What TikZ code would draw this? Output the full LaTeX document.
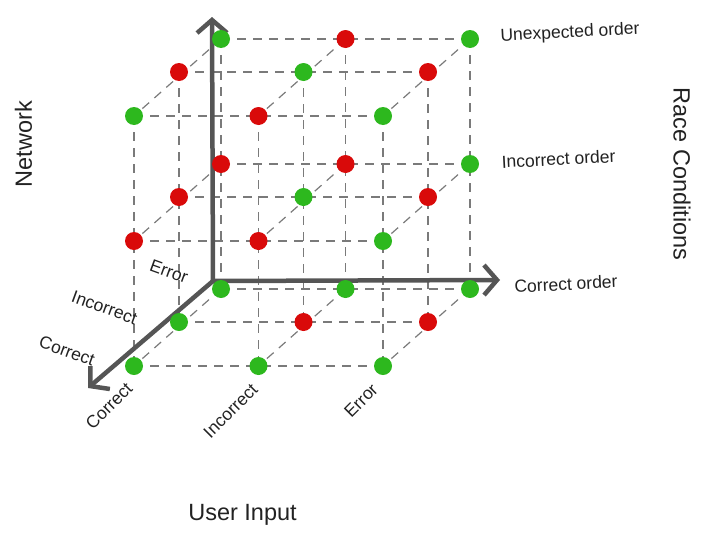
\documentclass[tikz,border=0pt]{standalone}
\usepackage{fontspec}
\setmainfont{Liberation Sans}
\usetikzlibrary{arrows.meta}
\definecolor{okgreen}{HTML}{2DB81E}
\definecolor{badred}{HTML}{D90A0A}
\definecolor{axisgray}{HTML}{555555}
\definecolor{gridgray}{HTML}{7A7A7A}
\definecolor{textgray}{HTML}{222222}
\tikzset{
  grid/.style={gridgray,line width=1.2pt,dash pattern=on 9pt off 7pt},
  axis/.style={axisgray,line width=4.5pt,-{Straight Barb[length=13pt,width=30pt]}},
  small/.style={textgray,font=\fontsize{17.5}{20}\selectfont},
  big/.style={textgray,font=\fontsize{23.5}{26}\selectfont},
}
\begin{document}
\begin{tikzpicture}[x=1pt,y=-1pt]
\useasboundingbox (0,0) rectangle (704,541);
%lattice
\foreach \d/\ox/\oy in {0/0/0,1/-42/33,2/-87/77}
  \foreach \i in {0,1,2}
    \foreach \j in {0,1,2}
      \coordinate (g\d\i\j) at (221+124.5*\i+\ox,39+125*\j+\oy);
%dashes
\foreach \a in {0,1,2}
  \foreach \b in {0,1,2} {
    \draw[grid] (g\a0\b) -- (g\a2\b);
    \draw[grid] (g\a\b0) -- (g\a\b2);
    \draw[grid] (g0\a\b) -- (g2\a\b);
  }
%axes
\coordinate (o) at (213,281);
\coordinate (ytip) at (212,17);
\coordinate (xtip) at (500,280);
\coordinate (ztip) at (88,388);
\draw[axis] (o) -- (ytip);
\draw[axis] (o) -- (xtip);
\draw[axis] (o) -- (ztip);
%points
\foreach \p in {000,020,110,200,220,021,111,221,002,012,022,102,202,212,222}
  \fill[okgreen] (g\p) circle [radius=9];
\foreach \p in {010,100,120,210,001,011,101,121,201,211,112,122}
  \fill[badred] (g\p) circle [radius=9];
%labels
\node[small,rotate=3] (unexp) at (570,33) {Unexpected order};
\node[small,rotate=3] (incorder) at (558.5,159) {Incorrect order};
\node[small,rotate=3] (corder) at (566,284) {Correct order};
\node[small,rotate=-20] (nerr) at (169,271.5) {Error};
\node[small,rotate=-20] (ninc) at (104.5,307.5) {Incorrect};
\node[small,rotate=-20] (ncor) at (67,351) {Correct};
\node[small,rotate=45] (ucor) at (109,406) {Correct};
\node[small,rotate=45] (uinc) at (230.5,411) {Incorrect};
\node[small,rotate=45] (uerr) at (361,400.5) {Error};
\node[big,rotate=90] (network) at (23.5,144) {Network};
\node[big,rotate=-90] (race) at (682,174) {Race Conditions};
\node[big] (user) at (242.5,515) {User Input};
\end{tikzpicture}
\end{document}
